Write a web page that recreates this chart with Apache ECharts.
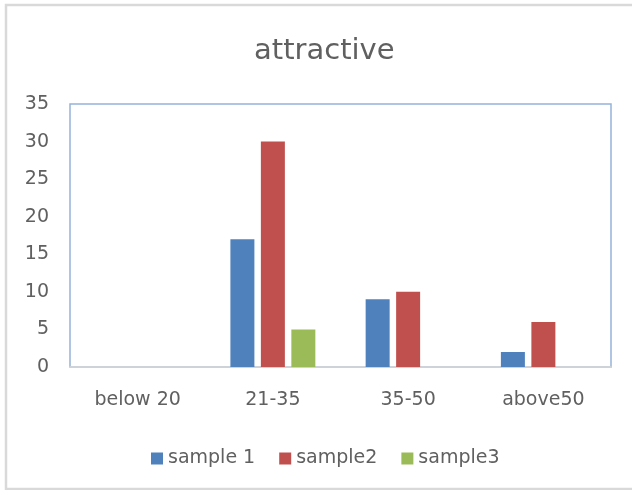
<!DOCTYPE html>
<html><head><meta charset="utf-8">
<script src="https://cdn.jsdelivr.net/npm/echarts@6/dist/echarts.min.js"></script>
<style>html,body{margin:0;padding:0;background:#fff}#c{width:632px;height:490px}</style>
</head><body><div id="c"></div>
<script>
const categories = ['below 20', '21-35', '35-50', 'above50'];
const sample1 = [0, 17, 9, 2];
const sample2 = [0, 30, 10, 6];
const sample3 = [0, 5, 0, 0];
const seriesNames = ['sample 1', 'sample2', 'sample3'];
const yTicks = { min: 0, max: 35, interval: 5 };

const chart = echarts.init(document.getElementById('c'));
const font = '"DejaVu Sans", sans-serif';
const txt = '#606060';
chart.setOption({
  animation: false,
  title: { text: 'attractive', left: 249, top: 32,
    textStyle: { fontFamily: font, fontSize: 29, fontWeight: 'normal', color: txt } },
  graphic: [{ type: 'rect', shape: { x: 6, y: 5, width: 660, height: 484 },
    style: { fill: 'none', stroke: '#d9d9d9', lineWidth: 2.5 }, z: -1 }],
  legend: { top: 444, left: 146, itemWidth: 12, itemHeight: 12, itemGap: 24,
    icon: 'rect', textStyle: { fontFamily: font, fontSize: 19, color: txt } },
  grid: { left: 70, right: 21, top: 104, bottom: 123, show: true, borderColor: '#95b3d7', borderWidth: 1.5 },
  xAxis: { type: 'category', data: categories,
    axisLine: { lineStyle: { color: '#d9d9d9', width: 1.5 } },
    axisTick: { show: false },
    axisLabel: { fontFamily: font, fontSize: 19, color: txt, margin: 24 } },
  yAxis: { type: 'value', min: yTicks.min, max: yTicks.max, interval: yTicks.interval,
    splitLine: { show: false }, axisLine: { show: false }, axisTick: { show: false },
    axisLabel: { fontFamily: font, fontSize: 19, color: txt, margin: 21 } },
  series: [
    { name: seriesNames[0], type: 'bar', data: sample1, barWidth: 24, barGap: '27%', itemStyle: { color: '#4f81bd' } },
    { name: seriesNames[1], type: 'bar', data: sample2, barWidth: 24, barGap: '27%', itemStyle: { color: '#c0504d' } },
    { name: seriesNames[2], type: 'bar', data: sample3, barWidth: 24, barGap: '27%', itemStyle: { color: '#9bbb59' } }
  ]
});
</script></body></html>
